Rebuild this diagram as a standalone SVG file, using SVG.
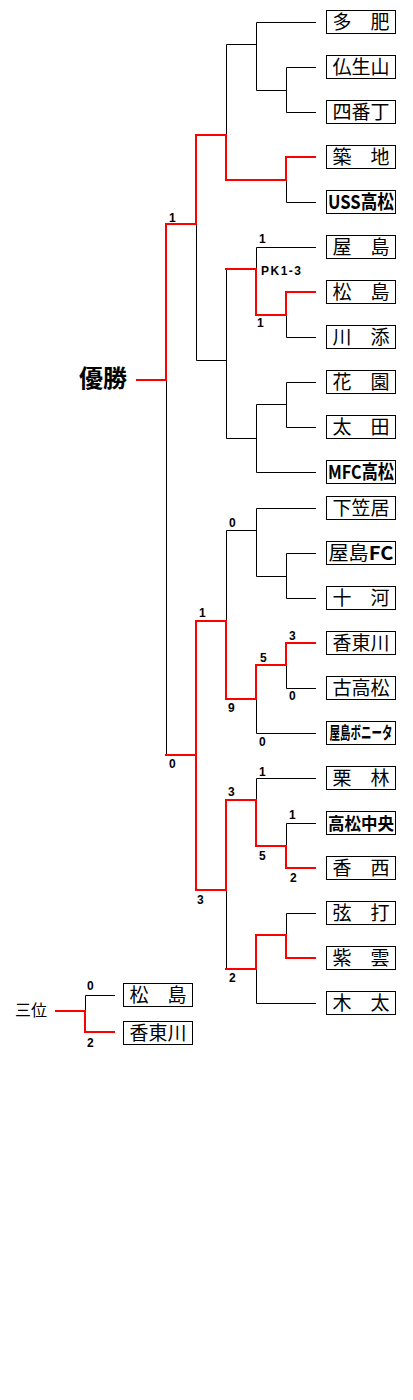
<svg xmlns="http://www.w3.org/2000/svg" width="413" height="1400" viewBox="0 0 413 1400">
<style>
.bx{fill:#fff;stroke:#000;stroke-width:1}
.nm{font-family:"Noto Sans CJK JP","Noto Sans CJK SC",sans-serif;font-size:19px;fill:#000;text-anchor:middle}
.bd{font-weight:bold}
.sc{font-family:"Liberation Sans",Arial,sans-serif;font-size:12px;font-weight:bold;fill:#000}
.bl{fill:none;stroke:#000;stroke-width:1}
.rd{fill:none;stroke:#f00;stroke-width:2;stroke-linecap:square}
</style>
<rect width="413" height="1400" fill="#fff"/>
<g id="connectors">
<path class="bl" d="M256.5 22.5H316M256.5 22.5V90.5H286.5M286.5 67.5H316M286.5 67.5V112.5H316M226.5 44.5H256.5M226.5 44.5V135M286.5 180V202.5H316M256.5 247.5H316M256.5 247.5V269M286.5 315V337.5H316M226.5 269.5V438.5H256.5M196.5 360.5H226.5M196.5 224V360.5M286.5 382.5H316M286.5 382.5V427.5H316M256.5 404.5H286.5M256.5 404.5V472.5H316M166.5 380V755M256.5 508.5H316M256.5 508.5V576.5H286.5M286.5 553.5H316M286.5 553.5V598.5H316M226.5 530.5H256.5M226.5 530.5V621M286.5 665V688.5H316M256.5 699V733.5H316M256.5 778.5H316M256.5 778.5V800M286.5 823.5H316M286.5 823.5V846M226.5 890V969M286.5 913.5H316M286.5 913.5V935M256.5 969V1003.5H316M85.5 1011V995.5H115"/>
<path class="rd" d="M137 380H166V224H196V135H226V180H286V157H315"/>
<path class="rd" d="M226 269H256V315H286V292H315"/>
<path class="rd" d="M166 755H196V621H226V699H256V665H286V643H315"/>
<path class="rd" d="M196 755V890H226V800H256V846H286V868H315"/>
<path class="rd" d="M226 969H256V935H286V958H315"/>
<path class="rd" d="M56 1011H85V1032H114"/>
</g>
<g id="scores">
<text class="sc" x="169" y="222">1</text>
<text class="sc" x="259" y="243">1</text>
<text class="sc" x="261" y="275" textLength="40" lengthAdjust="spacing">PK1-3</text>
<text class="sc" x="257" y="327">1</text>
<text class="sc" x="229" y="527">0</text>
<text class="sc" x="199" y="617">1</text>
<text class="sc" x="289" y="640">3</text>
<text class="sc" x="260" y="662">5</text>
<text class="sc" x="289" y="700">0</text>
<text class="sc" x="228" y="712">9</text>
<text class="sc" x="259" y="746">0</text>
<text class="sc" x="169" y="768">0</text>
<text class="sc" x="259" y="776">1</text>
<text class="sc" x="228" y="796">3</text>
<text class="sc" x="289" y="819">1</text>
<text class="sc" x="259" y="860">5</text>
<text class="sc" x="290" y="882">2</text>
<text class="sc" x="197" y="904">3</text>
<text class="sc" x="229" y="982">2</text>
<text class="sc" x="87" y="990">0</text>
<text class="sc" x="87" y="1047">2</text>
</g>
<g id="title-champion"><text x="79" y="387" style="font-family:'Noto Sans CJK JP',sans-serif;font-size:24px;font-weight:bold">優勝</text></g>
<g id="title-third"><text x="15" y="1016" style="font-family:'Noto Sans CJK JP',sans-serif;font-size:16px">三位</text></g>
<g id="t0"><rect class="bx" x="326.5" y="10.5" width="69" height="23"/><text class="nm" x="361" y="29">多　肥</text></g>
<g id="t1"><rect class="bx" x="326.5" y="55.5" width="69" height="23"/><text class="nm" x="361" y="74">仏生山</text></g>
<g id="t2"><rect class="bx" x="326.5" y="100.5" width="69" height="23"/><text class="nm" x="361" y="119">四番丁</text></g>
<g id="t3"><rect class="bx" x="326.5" y="145.5" width="69" height="23"/><text class="nm" x="361" y="164">築　地</text></g>
<g id="t4"><rect class="bx" x="326.5" y="190.5" width="69" height="23"/><text class="nm bd" x="361" y="209" textLength="66" lengthAdjust="spacingAndGlyphs">USS高松</text></g>
<g id="t5"><rect class="bx" x="326.5" y="235.5" width="69" height="23"/><text class="nm" x="361" y="254">屋　島</text></g>
<g id="t6"><rect class="bx" x="326.5" y="280.5" width="69" height="23"/><text class="nm" x="361" y="299">松　島</text></g>
<g id="t7"><rect class="bx" x="326.5" y="325.5" width="69" height="23"/><text class="nm" x="361" y="344">川　添</text></g>
<g id="t8"><rect class="bx" x="326.5" y="370.5" width="69" height="23"/><text class="nm" x="361" y="389">花　園</text></g>
<g id="t9"><rect class="bx" x="326.5" y="415.5" width="69" height="23"/><text class="nm" x="361" y="434">太　田</text></g>
<g id="t10"><rect class="bx" x="326.5" y="460.5" width="69" height="23"/><text class="nm bd" x="361" y="479" textLength="66" lengthAdjust="spacingAndGlyphs">MFC高松</text></g>
<g id="t11"><rect class="bx" x="326.5" y="496.5" width="69" height="23"/><text class="nm" x="361" y="515">下笠居</text></g>
<g id="t12"><rect class="bx" x="326.5" y="541.5" width="69" height="23"/><text class="nm" x="361" y="560" textLength="65" lengthAdjust="spacingAndGlyphs">屋島<tspan class="bd">FC</tspan></text></g>
<g id="t13"><rect class="bx" x="326.5" y="586.5" width="69" height="23"/><text class="nm" x="361" y="605">十　河</text></g>
<g id="t14"><rect class="bx" x="326.5" y="631.5" width="69" height="23"/><text class="nm" x="361" y="650">香東川</text></g>
<g id="t15"><rect class="bx" x="326.5" y="676.5" width="69" height="23"/><text class="nm" x="361" y="695">古高松</text></g>
<g id="t16"><rect class="bx" x="326.5" y="721.5" width="69" height="23"/><text class="nm bd" x="0" y="0" style="font-size:17px" transform="translate(361 739) scale(0.62 1)">屋島ボニータ</text></g>
<g id="t17"><rect class="bx" x="326.5" y="766.5" width="69" height="23"/><text class="nm" x="361" y="785">栗　林</text></g>
<g id="t18"><rect class="bx" x="326.5" y="811.5" width="69" height="23"/><text class="nm bd" x="361" y="830" style="font-size:17px" textLength="66" lengthAdjust="spacingAndGlyphs">高松中央</text></g>
<g id="t19"><rect class="bx" x="326.5" y="856.5" width="69" height="23"/><text class="nm" x="361" y="875">香　西</text></g>
<g id="t20"><rect class="bx" x="326.5" y="901.5" width="69" height="23"/><text class="nm" x="361" y="920">弦　打</text></g>
<g id="t21"><rect class="bx" x="326.5" y="946.5" width="69" height="23"/><text class="nm" x="361" y="965">紫　雲</text></g>
<g id="t22"><rect class="bx" x="326.5" y="991.5" width="69" height="23"/><text class="nm" x="361" y="1010">木　太</text></g>
<g id="p1"><rect class="bx" x="123.5" y="983.5" width="69" height="23"/><text class="nm" x="158" y="1002">松　島</text></g>
<g id="p2"><rect class="bx" x="123.5" y="1021.5" width="69" height="23"/><text class="nm" x="158" y="1040">香東川</text></g>
</svg>
